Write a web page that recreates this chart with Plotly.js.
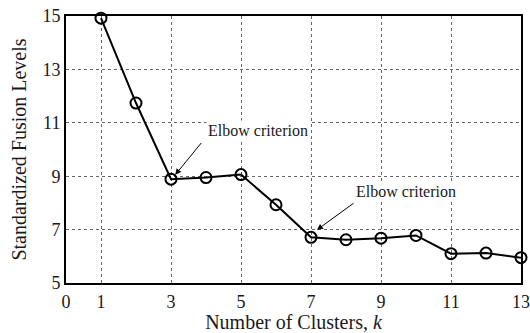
<!DOCTYPE html>
<html>
<head>
<meta charset="utf-8">
<script src="https://cdn.plot.ly/plotly-3.0.1.min.js"></script>
<style>html,body{margin:0;padding:0;background:#fff;}#chart{width:530px;height:333px;}</style>
</head>
<body>
<div id="chart"></div>
<script>
const clusters = [1, 2, 3, 4, 5, 6, 7, 8, 9, 10, 11, 12, 13];
const fusionLevels = [14.92, 11.74, 8.89, 8.95, 9.06, 7.93, 6.71, 6.62, 6.68, 6.78, 6.10, 6.12, 5.95];
const xTicks = [0, 1, 3, 5, 7, 9, 11, 13];
const yTicks = [5, 7, 9, 11, 13, 15];
const annotationText = 'Elbow criterion';

const font = 'Liberation Serif, Times New Roman, serif';
const textColor = '#1a1a1a';

const trace = {
  x: clusters,
  y: fusionLevels,
  mode: 'lines+markers',
  line: {color: '#000', width: 2},
  marker: {symbol: 'circle-open', size: 11, color: '#000', line: {width: 2, color: '#000'}},
  cliponaxis: false,
  showlegend: false
};

const axisCommon = {
  showline: true, mirror: true, linecolor: '#000', linewidth: 2,
  showgrid: true, gridcolor: '#666', gridwidth: 1, griddash: '3px,3px',
  zeroline: false, ticks: '', tickfont: {family: font, size: 18, color: textColor},
  tickmode: 'array'
};

const layout = {
  width: 530, height: 333,
  margin: {l: 66, r: 9, t: 16, b: 50},
  paper_bgcolor: '#fff', plot_bgcolor: '#fff',
  font: {family: font, color: textColor},
  xaxis: Object.assign({}, axisCommon, {
    range: [0, 13], tickvals: xTicks, ticktext: xTicks.map(String), ticklabelstandoff: 1,
    title: {text: 'Number of Clusters, <i>k</i>', font: {family: font, size: 20, color: textColor}, standoff: 9}
  }),
  yaxis: Object.assign({}, axisCommon, {
    range: [5, 15], tickvals: yTicks, ticktext: yTicks.map(String),
    title: {text: 'Standardized Fusion Levels', font: {family: font, size: 20, color: textColor}, standoff: 10}
  }),
  annotations: [
    {x: 3.12, y: 9.05, ax: 3.9, ay: 10.3, xref: 'x', yref: 'y', axref: 'x', ayref: 'y',
     text: '', showarrow: true, arrowhead: 2, arrowsize: 1.2, arrowwidth: 1, arrowcolor: '#000'},
    {x: 5.49, y: 10.73, xref: 'x', yref: 'y', text: annotationText, showarrow: false,
     bgcolor: '#fff', font: {family: font, size: 16, color: textColor}},
    {x: 7.17, y: 6.99, ax: 8.26, ay: 8.03, xref: 'x', yref: 'y', axref: 'x', ayref: 'y',
     text: '', showarrow: true, arrowhead: 2, arrowsize: 1.2, arrowwidth: 1, arrowcolor: '#000'},
    {x: 9.71, y: 8.41, xref: 'x', yref: 'y', text: annotationText, showarrow: false,
     bgcolor: '#fff', font: {family: font, size: 16, color: textColor}}
  ]
};

Plotly.newPlot('chart', [trace], layout, {displayModeBar: false, staticPlot: true});
</script>
</body>
</html>
